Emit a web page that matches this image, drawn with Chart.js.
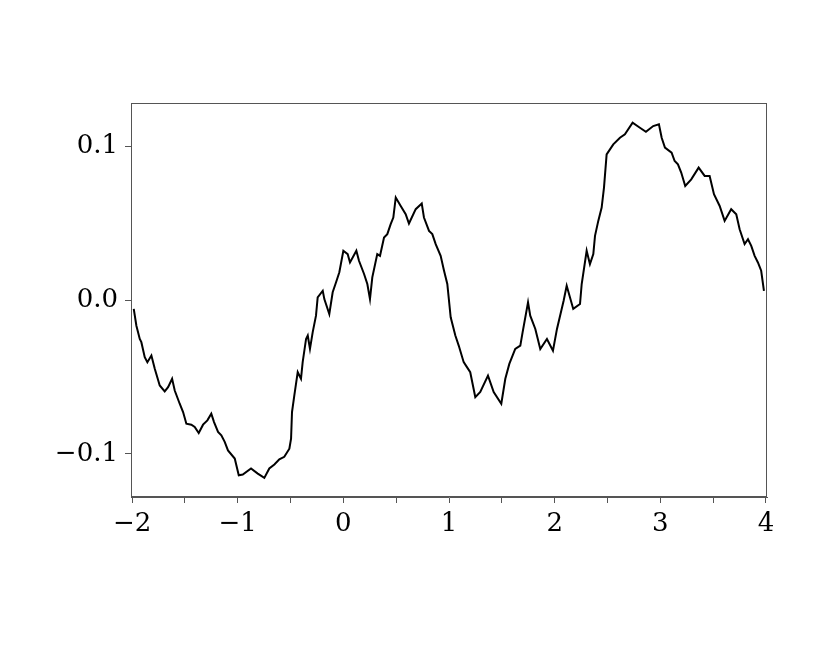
<!DOCTYPE html>
<html>
<head>
<meta charset="utf-8">
<script src="https://cdn.jsdelivr.net/npm/chart.js@4.4.1/dist/chart.umd.min.js"></script>
<style>
  html, body { margin: 0; padding: 0; background: #fff; }
  #wrap { width: 830px; height: 664px; }
</style>
</head>
<body>
<div id="wrap"><canvas id="curveChart" width="830" height="664"></canvas></div>
<script>
// Curve (x, y pairs)
const xs = [
  -1.984, -1.959, -1.927, -1.912, -1.880, -1.855, -1.817, -1.785, -1.738, -1.691,
  -1.659, -1.621, -1.596, -1.549, -1.517, -1.486, -1.439, -1.407, -1.369, -1.328,
  -1.287, -1.250, -1.224, -1.186, -1.155, -1.123, -1.092, -1.028, -0.990,
  -0.952, -0.874, -0.810, -0.748, -0.701, -0.653, -0.606, -0.559, -0.511, -0.495,
  -0.486, -0.464, -0.432, -0.401, -0.385, -0.353, -0.337, -0.316, -0.290, -0.259,
  -0.243, -0.195, -0.180, -0.133, -0.101, -0.069, -0.038, 0.000, 0.041,
  0.063, 0.123, 0.148, 0.196, 0.227, 0.252, 0.274, 0.321, 0.347, 0.385,
  0.416, 0.448, 0.473, 0.496, 0.543, 0.590, 0.621, 0.685, 0.742, 0.763,
  0.811, 0.842, 0.874, 0.921, 0.953, 0.984, 1.016,
  1.060, 1.092, 1.139, 1.170, 1.201, 1.249, 1.296, 1.369, 1.423, 1.495,
  1.533, 1.571, 1.627, 1.675, 1.697, 1.748, 1.769, 1.817, 1.864, 1.927,
  1.984, 2.022, 2.085,
  2.114, 2.176, 2.240, 2.256, 2.303, 2.334, 2.366, 2.382, 2.413, 2.445,
  2.467, 2.492, 2.555, 2.618, 2.665, 2.738, 2.807, 2.864, 2.933, 2.987,
  3.013, 3.044, 3.107,
  3.136, 3.167, 3.198, 3.236, 3.293, 3.363, 3.420, 3.467, 3.508, 3.562,
  3.609, 3.671, 3.719, 3.751, 3.798, 3.830, 3.861, 3.893, 3.924, 3.955, 3.981
];
const ys = [
  -0.0058, -0.0167, -0.0253, -0.0274, -0.0371, -0.0404, -0.0361, -0.0447, -0.0555, -0.0594,
  -0.0566, -0.0512, -0.0588, -0.0674, -0.0728, -0.0804, -0.0810, -0.0825, -0.0864, -0.0810,
  -0.0782, -0.0739, -0.0793, -0.0857, -0.0879, -0.0922, -0.0977, -0.1030, -0.1139,
  -0.1134, -0.1095, -0.1128, -0.1156, -0.1095, -0.1069, -0.1035, -0.1019, -0.0966, -0.0901,
  -0.0728, -0.0620, -0.0469, -0.0512, -0.0404, -0.0253, -0.0231, -0.0318, -0.0209, -0.0102,
  0.0017, 0.0060, 0.0006, -0.0091, 0.0050, 0.0115, 0.0180, 0.0320, 0.0298,
  0.0244, 0.0320, 0.0255, 0.0169, 0.0104, 0.0006, 0.0147, 0.0298, 0.0287, 0.0406,
  0.0428, 0.0493, 0.0536, 0.0666, 0.0611, 0.0557, 0.0497, 0.0590, 0.0627, 0.0536,
  0.0449, 0.0428, 0.0363, 0.0287, 0.0190, 0.0104, -0.0112,
  -0.0231, -0.0296, -0.0404, -0.0436, -0.0469, -0.0631, -0.0598, -0.0491, -0.0598, -0.0674,
  -0.0512, -0.0415, -0.0318, -0.0296, -0.0209, -0.0015, -0.0102, -0.0188, -0.0318, -0.0253,
  -0.0329, -0.0188, -0.0005,
  0.0093, -0.0058, -0.0026, 0.0104, 0.0320, 0.0233, 0.0298, 0.0417, 0.0514, 0.0601,
  0.0730, 0.0946, 0.1011, 0.1054, 0.1076, 0.1152, 0.1119, 0.1093, 0.1130, 0.1141,
  0.1054, 0.0990, 0.0957,
  0.0903, 0.0881, 0.0828, 0.0741, 0.0784, 0.0860, 0.0806, 0.0806, 0.0687, 0.0611,
  0.0514, 0.0590, 0.0557, 0.0460, 0.0363, 0.0395, 0.0352, 0.0287, 0.0244, 0.0190, 0.0060
];

// Axis ticks
const xTickLabels = [-2, -1, 0, 1, 2, 3, 4];
const yTickLabels = [-0.1, 0.0, 0.1];

const points = xs.map((x, i) => ({ x: x, y: ys[i] }));
const sign = v => (v < 0 ? "\u2212" : "");

// Box around the plot area
const frame = {
  id: "frame",
  afterDraw(chart) {
    const a = chart.chartArea, c = chart.ctx;
    c.save();
    c.strokeStyle = "#555";
    c.lineWidth = 1;
    c.strokeRect(a.left + 0.5, a.top + 0.5, a.right - a.left - 1, a.bottom - a.top - 1);
    c.restore();
  }
};

const tickFont = { family: "DejaVu Serif", size: 26 };

const ctx = document.getElementById("curveChart").getContext("2d");

new Chart(ctx, {
  type: "line",
  data: {
    datasets: [{
      data: points,
      borderColor: "#000",
      borderWidth: 2,
      pointRadius: 0,
      tension: 0,
      fill: false
    }]
  },
  options: {
    responsive: false,
    animation: false,
    layout: { padding: { top: 103, right: 63, bottom: 0, left: 0 } },
    plugins: { legend: { display: false }, tooltip: { enabled: false } },
    scales: {
      x: {
        type: "linear",
        min: -2.01,
        max: 4.01,
        afterFit(scale) { scale.height = 167; },
        grid: { drawOnChartArea: false, tickLength: 6, color: "#555" },
        border: { display: true, color: "#555" },
        ticks: {
          stepSize: 0.5,
          includeBounds: false,
          maxRotation: 0,
          autoSkip: false,
          padding: 6,
          color: "#000",
          font: tickFont,
          callback: v => (xTickLabels.includes(v) ? sign(v) + Math.abs(v) : "")
        }
      },
      y: {
        min: -0.128,
        max: 0.128,
        afterFit(scale) { scale.width = 131; },
        grid: { drawOnChartArea: false, tickLength: 6, color: "#555" },
        border: { display: true, color: "#555" },
        ticks: {
          stepSize: 0.1,
          includeBounds: false,
          padding: 7,
          color: "#000",
          font: tickFont,
          callback: v => {
            const r = Math.round(v * 10) / 10;
            if (!yTickLabels.includes(r)) return "";
            return sign(r) + Math.abs(r).toFixed(1);
          }
        }
      }
    }
  },
  plugins: [frame]
});
</script>
</body>
</html>
